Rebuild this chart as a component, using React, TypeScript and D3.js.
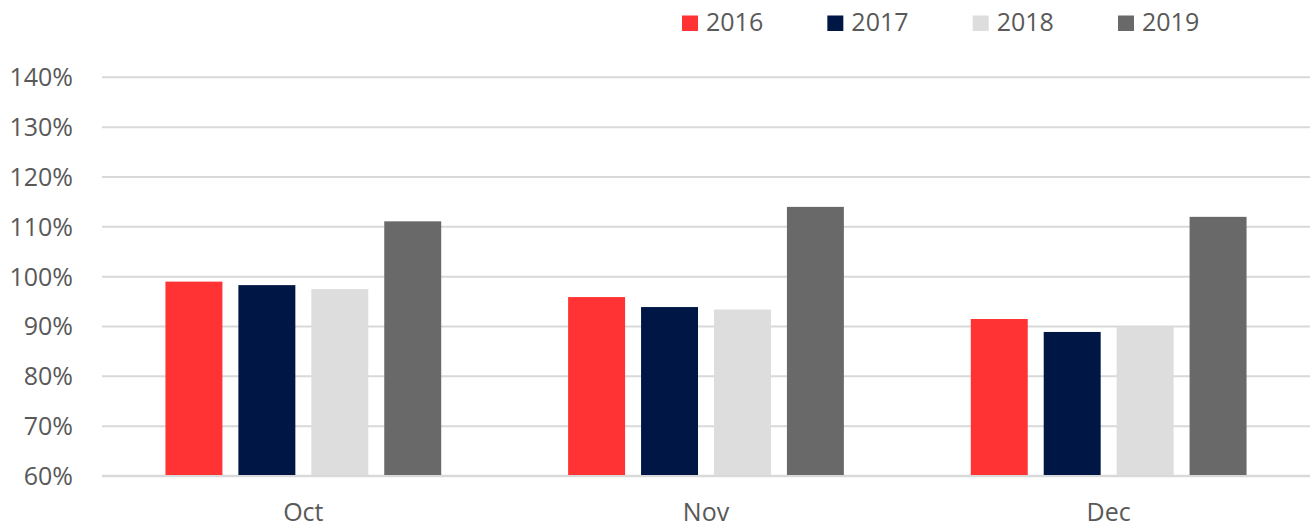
import React, { useEffect, useRef } from "react";
import * as d3 from "d3";

const months = ["Oct", "Nov", "Dec"];
const years = ["2016", "2017", "2018", "2019"];
const colors = ["#FF3333", "#001746", "#DDDDDD", "#696969"];
const values2016 = [99.0, 95.9, 91.5];
const values2017 = [98.3, 93.9, 88.9];
const values2018 = [97.5, 93.4, 89.9];
const values2019 = [111.1, 114.0, 112.0];
const yTicks = [60, 70, 80, 90, 100, 110, 120, 130, 140];

const App = () => {
	const svgRef = useRef<SVGSVGElement>(null);

	useEffect(() => {
		const width = 1310;
		const height = 527;
		const font = "'Open Sans', 'Noto Sans', sans-serif";
		const textColor = "#595959";

		const series = [values2016, values2017, values2018, values2019];
		const data = months.map((m, i) => ({
			month: m,
			values: years.map((yr, j) => ({ year: yr, value: series[j][i] })),
		}));

		const svg = d3.select(svgRef.current);
		svg.selectAll("*").remove();
		svg.attr("width", width).attr("height", height);

		const left = 102;
		const right = 1310;

		const y = d3.scaleLinear().domain([60, 140]).range([476, 77.3]);
		const x0 = d3.scaleBand().domain(months).range([left, right]).padding(0);
		const x1 = d3
			.scaleBand()
			.domain(years)
			.range([0, x0.bandwidth()])
			.paddingInner(0.219)
			.paddingOuter(0.87);
		const color = d3.scaleOrdinal<string>().domain(years).range(colors);

		// gridlines
		svg
			.append("g")
			.selectAll("line")
			.data(yTicks)
			.enter()
			.append("line")
			.attr("x1", left)
			.attr("x2", right)
			.attr("y1", (d) => y(d))
			.attr("y2", (d) => y(d))
			.style("stroke", "#D9D9D9")
			.style("stroke-width", (d) => (d === 60 ? 2.5 : 2));

		// y tick labels
		svg
			.append("g")
			.selectAll("text")
			.data(yTicks)
			.enter()
			.append("text")
			.attr("x", 73)
			.attr("y", (d) => y(d))
			.attr("dy", "0.36em")
			.attr("text-anchor", "end")
			.style("font-family", font)
			.style("font-size", "25px")
			.style("fill", textColor)
			.text((d) => `${d}%`);

		// bars
		const groups = svg
			.append("g")
			.selectAll("g")
			.data(data)
			.enter()
			.append("g")
			.attr("transform", (d) => `translate(${x0(d.month)},0)`);

		groups
			.selectAll("rect")
			.data((d) => d.values)
			.enter()
			.append("rect")
			.attr("x", (d) => x1(d.year) as number)
			.attr("width", x1.bandwidth())
			.attr("y", (d) => y(d.value))
			.attr("height", (d) => y(60) - y(d.value) - 1)
			.attr("fill", (d) => color(d.year));

		// x labels
		svg
			.append("g")
			.selectAll("text")
			.data(months)
			.enter()
			.append("text")
			.attr("x", (d) => (x0(d) as number) + x0.bandwidth() / 2)
			.attr("y", 521)
			.attr("text-anchor", "middle")
			.style("font-family", font)
			.style("font-size", "25px")
			.style("fill", textColor)
			.text((d) => d);

		// legend
		const legendX = d3.scalePoint().domain(years).range([682, 1118]);
		const legend = svg
			.append("g")
			.selectAll("g")
			.data(years)
			.enter()
			.append("g")
			.attr("transform", (d) => `translate(${legendX(d)},0)`);

		legend
			.append("rect")
			.attr("x", 0)
			.attr("y", 15.5)
			.attr("width", 16)
			.attr("height", 15.5)
			.attr("fill", (d) => color(d));

		legend
			.append("text")
			.attr("x", 24)
			.attr("y", 31)
			.style("font-family", font)
			.style("font-size", "25px")
			.style("fill", textColor)
			.text((d) => d);
	}, []);

	return (
		<svg
			ref={svgRef}
			style={{ position: "absolute", left: 0, top: 0, display: "block" }}></svg>
	);
};

export default App;
